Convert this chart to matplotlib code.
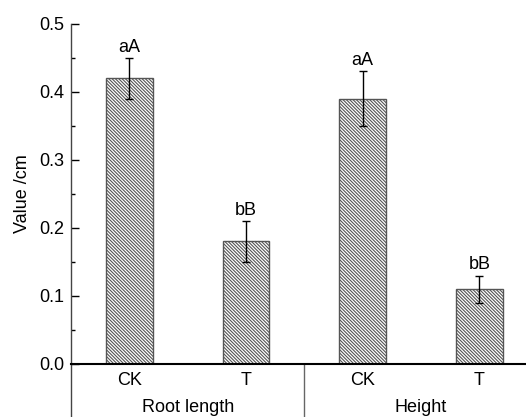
import matplotlib
matplotlib.use("Agg")
import matplotlib.pyplot as plt
from matplotlib.ticker import MultipleLocator

plt.rcParams['font.family'] = ['Liberation Sans', 'DejaVu Sans']
plt.rcParams['hatch.linewidth'] = 0.8
plt.rcParams['hatch.color'] = 'black'

treatments = ["CK", "T", "CK", "T"]
groups = ["Root length", "Height"]
values = [0.42, 0.18, 0.39, 0.11]
errors = [0.03, 0.03, 0.04, 0.02]
letters = ["aA", "bB", "aA", "bB"]

FS = 13

fig = plt.figure(figsize=(5.26, 4.17), dpi=100)
ax = fig.add_axes([71/526, 53/417, (526-71)/526, (364-23.7)/417])

x = list(range(len(values)))
ax.bar(x, values, width=0.4, color='white', edgecolor='#555555', linewidth=1.0,
       hatch='\\' * 10, zorder=2)
ax.errorbar(x, values, yerr=errors, fmt='none', ecolor='black', elinewidth=1.0,
            capsize=3, capthick=1.0, zorder=3)
for xi, v, e, t in zip(x, values, errors, letters):
    ax.text(xi, v + e + 0.003, t, ha='center', va='bottom', fontsize=FS)

ax.set_xlim(-0.5, 3.4)
ax.set_ylim(0, 0.5)
ax.yaxis.set_minor_locator(MultipleLocator(0.05))
ax.set_yticks([0.0, 0.1, 0.2, 0.3, 0.4, 0.5])
ax.set_yticklabels(["0.0", "0.1", "0.2", "0.3", "0.4", "0.5"])
ax.set_xticks(x)
ax.set_xticklabels(treatments)
ax.tick_params(axis='both', which='major', direction='in', length=6, width=1,
               labelsize=FS, pad=5)
ax.tick_params(axis='y', which='minor', direction='in', length=3, width=1)
ax.tick_params(axis='x', pad=6)

for s in ['top', 'right']:
    ax.spines[s].set_visible(False)
ax.spines['bottom'].set_linewidth(1.5)
ax.spines['bottom'].set_color('black')
ax.spines['left'].set_color('#444444')
ax.spines['left'].set_linewidth(1.0)
ax.spines['left'].set_bounds(0, 0.5)

# extend left spine down below axis and group separator
ax.plot([-0.5, -0.5], [0, -0.16], color='#444444', lw=1.0, clip_on=False)
ax.plot([1.5, 1.5], [0, -0.16], color='#666666', lw=1.0, clip_on=False)

ax.text(0.5, -0.052, groups[0], ha='center', va='top', fontsize=FS)
ax.text(2.5, -0.052, groups[1], ha='center', va='top', fontsize=FS)

ax.set_ylabel("Value /cm", fontsize=FS, labelpad=6)

fig.savefig("out.png", dpi=100)
